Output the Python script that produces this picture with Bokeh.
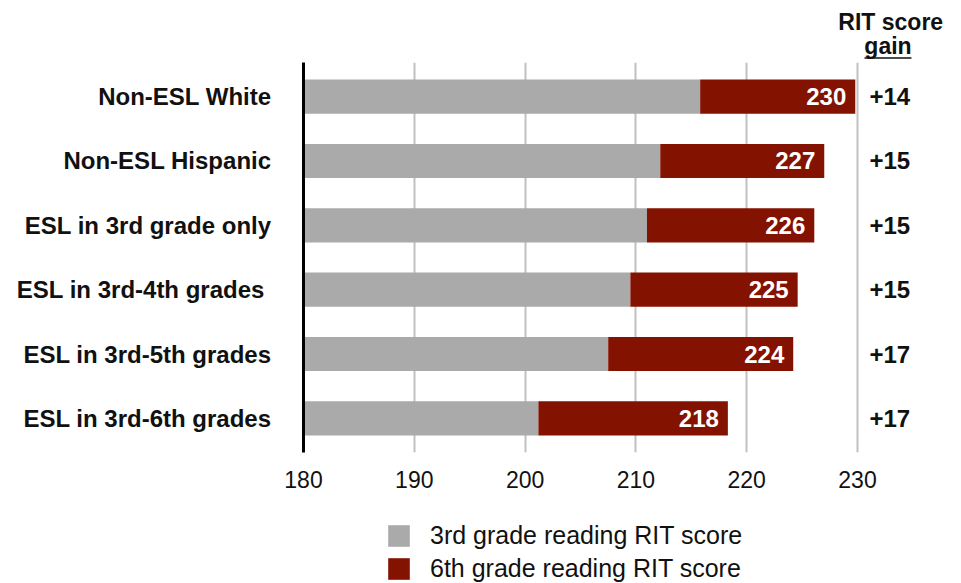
from bokeh.plotting import figure
from bokeh.layouts import column
from bokeh.models import (ColumnDataSource, FixedTicker, Range1d, Legend, LegendItem)
from bokeh.core.properties import value
from bokeh.embed import file_html
from bokeh.resources import INLINE

# ---- data ----
groups = ["Non-ESL White", "Non-ESL Hispanic", "ESL in 3rd grade only",
          "ESL in 3rd-4th grades ", "ESL in 3rd-5th grades", "ESL in 3rd-6th grades"]
third_grade = [215.8, 212.2, 211.0, 209.5, 207.5, 201.2]
sixth_grade = [229.8, 227.0, 226.1, 224.6, 224.2, 218.3]
sixth_labels = ["230", "227", "226", "225", "224", "218"]
gain_labels = ["+14", "+15", "+15", "+15", "+17", "+17"]
x_ticks = [180, 190, 200, 210, 220, 230]
series_names = ["3rd grade reading RIT score", "6th grade reading RIT score"]
header_lines = ["RIT score", "gain"]
axis_min = 180
gain_col_x = 230

FONT = "Liberation Sans"
GRAY = "#aaaaaa"
RED = "#841200"
INK = "#111111"

W = 961
LEFT = 303
PX_PER_UNIT = 11.08
xr = Range1d(axis_min, axis_min + (W - LEFT) / PX_PER_UNIT)

ypos = list(range(len(groups) - 1, -1, -1))
src = ColumnDataSource(dict(y=ypos, base=[axis_min] * len(groups), third=third_grade,
                            sixth=sixth_grade, lab6=sixth_labels, gain=gain_labels))


def clean(fig):
    fig.outline_line_color = None
    fig.background_fill_color = "white"
    fig.border_fill_color = "white"


# ---------- header ----------
hdr = figure(width=W, height=62, output_backend="svg", toolbar_location=None,
             x_range=xr, y_range=Range1d(62, 0),
             min_border_left=LEFT, min_border_right=0, min_border_top=0, min_border_bottom=0)
clean(hdr)
hdr.axis.visible = False
hdr.grid.visible = False
hdr.text(x=[233.0, 232.75], y=[21.5, 45.0], text=header_lines, text_align="center",
         text_baseline="middle", text_color=INK, text_font=value(FONT),
         text_font_style="bold", text_font_size="23px")
hdr.segment(x0=[230.63], y0=[57.5], x1=[234.87], y1=[57.5], line_color=INK, line_width=1.5)

# ---------- main ----------
p = figure(width=W, height=438, output_backend="svg", toolbar_location=None,
           x_range=xr, y_range=Range1d(-0.53, 5.53),
           min_border_left=LEFT, min_border_right=0, min_border_top=0, min_border_bottom=48)
clean(p)

p.hbar(y="y", left="base", right="third", height=0.53, source=src,
       fill_color=GRAY, line_color=None)
p.hbar(y="y", left="third", right="sixth", height=0.53, source=src,
       fill_color=RED, line_color=None)

p.text(x="sixth", y="y", text="lab6", source=src, x_offset=-9,
       text_align="right", text_baseline="middle", text_color="white",
       text_font=value(FONT), text_font_style="bold", text_font_size="24px")
p.text(x=gain_col_x, y="y", text="gain", source=src, x_offset=12,
       text_align="left", text_baseline="middle", text_color=INK,
       text_font=value(FONT), text_font_style="bold", text_font_size="24px")

p.ygrid.grid_line_color = None
p.xgrid.ticker = FixedTicker(ticks=x_ticks)
p.xgrid.grid_line_color = "#c0c0c0"
p.xgrid.grid_line_width = 2

xa = p.xaxis[0]
xa.ticker = FixedTicker(ticks=x_ticks)
xa.axis_line_color = None
xa.major_tick_line_color = None
xa.minor_tick_line_color = None
xa.major_tick_out = 0
xa.major_label_standoff = 18
xa.major_label_text_font = FONT
xa.major_label_text_font_size = "23px"
xa.major_label_text_color = INK

ya = p.yaxis[0]
ya.ticker = FixedTicker(ticks=ypos)
ya.major_label_overrides = {y: g for y, g in zip(ypos, groups)}
ya.axis_line_color = "black"
ya.axis_line_width = 3
ya.major_tick_line_color = None
ya.minor_tick_line_color = None
ya.major_tick_out = 0
ya.major_label_standoff = 32
ya.major_label_text_font = FONT
ya.major_label_text_font_style = "bold"
ya.major_label_text_font_size = "24px"
ya.major_label_text_color = INK

# ---------- legend ----------
leg = figure(width=W, height=83, output_backend="svg", toolbar_location=None,
             x_range=Range1d(0, 1), y_range=Range1d(0, 1),
             min_border_left=0, min_border_right=0, min_border_top=0, min_border_bottom=0)
clean(leg)
leg.axis.visible = False
leg.grid.visible = False
# zero-width proxies: only their styles are used by the legend
proxy = dict(y=[0.5], left=[0.0], right=[0.0])
la = leg.hbar(y="y", left="left", right="right", height=0.5, source=ColumnDataSource(proxy),
              fill_color=GRAY, line_color=None)
lb = leg.hbar(y="y", left="left", right="right", height=0.5, source=ColumnDataSource(proxy),
              fill_color=RED, line_color=None)
legend = Legend(items=[LegendItem(label=series_names[0], renderers=[la]),
                       LegendItem(label=series_names[1], renderers=[lb])],
                location=(82, 0), orientation="vertical",
                glyph_width=27, glyph_height=27, label_height=27, spacing=4,
                label_standoff=18, padding=0, margin=0,
                border_line_color=None, background_fill_alpha=0,
                label_text_font=FONT, label_text_font_size="25px",
                label_text_color=INK)
leg.add_layout(legend, "center")

layout = column(hdr, p, leg, spacing=0)
open("out.html", "w").write(file_html(layout, INLINE))
